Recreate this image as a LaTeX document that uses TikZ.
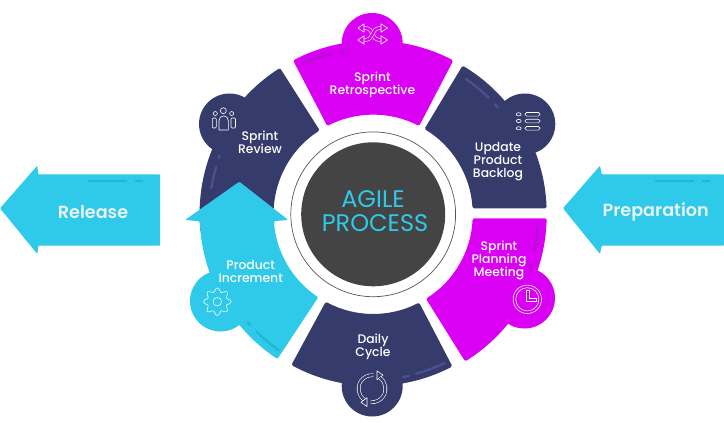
\documentclass[tikz,border=0pt]{standalone}
\usepackage{fontspec}
\setmainfont{Poppins}
\newfontfamily\medf{Poppins}[UprightFont={* Medium},BoldFont={* SemiBold}]
\definecolor{navy}{HTML}{353B6B}
\definecolor{navyhi}{HTML}{4A5190}
\definecolor{magen}{HTML}{D900F3}
\definecolor{magenhi}{HTML}{B114CC}
\definecolor{cyanb}{HTML}{2FCAEA}
\definecolor{cyanhi}{HTML}{25B4D3}
\definecolor{core}{HTML}{444444}
\definecolor{ringc}{HTML}{555555}
\definecolor{soft}{HTML}{E9F3F6}
\tikzset{
  seglabel/.style={text=white,font=\medf\fontsize{12.4}{13}\selectfont,align=center,inner sep=0pt},
  biglabel/.style={text=soft,font=\medf\bfseries\fontsize{17.6}{19}\selectfont,inner sep=0pt},
  corelabel/.style={text=cyanb,font=\fontsize{24}{26}\selectfont,align=center,inner sep=0pt},
  hi/.style={line width=2.3,line cap=round},
  icon/.style={draw=white,line width=0.6,line join=round},
  ribbon/.style={line width=0.6,draw=white,double distance=2.4,line cap=butt},
}
\newcommand\seg[3]{\fill[#3,rounded corners=1.5] (#1:\segR) arc[start angle=#1,end angle=#2,radius=\segR] -- (#2:99.5) arc[start angle=#2,end angle=#1,radius=99.5] -- cycle;}
\newcommand\hiarc[4]{\draw[hi,#4] (#1:#3) arc[start angle=#1,end angle=#2,radius=#3];}
\def\segR{173.5}
\begin{document}
\begin{tikzpicture}[x=1pt,y=1pt]
\useasboundingbox (0,0) rectangle (724,-423);
\coordinate (c) at (373.2,-214.3);
% side arrows
\fill[cyanb,rounded corners=0.8] (0,-208.3) -- (37.3,-165.7) -- (38.3,-174.3) -- (160,-174.3) -- (160,-245.7) -- (38.3,-245.7) -- (37.3,-254) -- cycle;
\draw[hi,cyanhi,line cap=butt] (88,-181.3) -- (127.3,-181.3);
\draw[hi,cyanhi,line cap=butt] (135,-181.3) -- (143,-181.3);
\node[biglabel] (release) at (93,-211.7) {Release};
\fill[cyanb,rounded corners=0.8] (563,-208.3) -- (600,-165.7) -- (601.7,-174.3) -- (724,-174.3) -- (724,-245.7) -- (601.7,-245.7) -- (600,-254) -- cycle;
\draw[hi,cyanhi,line cap=butt] (654.7,-181.3) -- (694,-181.3);
\draw[hi,cyanhi,line cap=butt] (701.7,-181.3) -- (710,-181.3);
\node[biglabel] (prep) at (655.7,-211.5) {Preparation};
% bumps
\fill[magen] (372.2,-43.5) circle (30.5);
\fill[navy] (229.5,-124) circle (30.5);
\fill[navy] (524.8,-124) circle (30.5);
\fill[magen] (524.5,-298) circle (30.5);
\fill[cyanb] (220.5,-301) circle (30.5);
\fill[navy] (372.2,-386) circle (30.5);
% segments
\begin{scope}[shift={(c)}]
\seg{62.5}{117.5}{magen}
\fill[navy,rounded corners=1.5] (59:\segR) arc[start angle=59,end angle=1.98,radius=\segR] -- (3.46:99.5) arc[start angle=3.46,end angle=59,radius=99.5] -- cycle;
\fill[magen,rounded corners=1.5] (-58:\segR) arc[start angle=-58,end angle=-1.32,radius=\segR] -- (-2.3:99.5) arc[start angle=-2.3,end angle=-58,radius=99.5] -- cycle;
\seg{122.5}{186}{navy}
\def\segR{171.5}
\seg{-62.5}{-118.5}{navy}
\def\segR{173.5}
\fill[cyanb,rounded corners=1.2] (236.5:\segR) arc[start angle=236.5,end angle=182.3,radius=\segR]
  -- (185-373.2,-5.7) -- (239.3-373.2,32.6) -- (288.3-373.2,-5.7) -- (183.9:99.5)
  arc[start angle=183.9,end angle=236.5,radius=99.5] -- cycle;
% highlights
\hiarc{115.4}{105}{166}{magenhi}
\hiarc{101.8}{99.8}{166}{magenhi}
\hiarc{55.6}{45.3}{164}{navyhi}
\hiarc{42.1}{40.5}{164}{navyhi}
\hiarc{170.8}{163.3}{164}{navyhi}
\hiarc{160}{159}{164.5}{navyhi}
\hiarc{225.2}{235.3}{165.5}{cyanhi}
\hiarc{220.7}{222}{165.5}{cyanhi}
\hiarc{-75}{-64.4}{165}{navyhi}
\hiarc{-79.6}{-77.5}{165.5}{navyhi}
\hiarc{-4.3}{-12.4}{165}{magenhi}
\hiarc{-18.9}{-17.8}{166}{magenhi}
% core
\draw[ringc,line width=0.7] (0,0) circle (82.4);
\fill[core] (0,0) circle (72);
\end{scope}
\node[corelabel,anchor=center] (agile) at (373,-199) {AGILE};
\node[corelabel,anchor=center] (process) at (375,-223) {PROCESS};
% labels
\node[seglabel] (retro) at (372.5,-84.5) {Sprint\\Retrospective};
\node[seglabel] (review) at (260,-142.5) {Sprint\\Review};
\node[seglabel] (update) at (498,-161.5) {Update\\Product\\Backlog};
\node[seglabel] (planning) at (499,-260) {Sprint\\Planning\\Meeting};
\node[seglabel] (daily) at (373,-346.5) {Daily\\Cycle};
\node[seglabel] (increment) at (250.7,-271) {Product\\Increment};
% shuffle icon
\draw[ribbon,double=magen] (364,-28) .. controls (376,-28) and (369,-40) .. (381,-40);
\draw[ribbon,double=magen] (364,-40) .. controls (376,-40) and (369,-28) .. (381,-28);
\draw[icon,fill=magen] (364,-23.8) -- (358,-28) -- (364,-32.2) -- cycle;
\draw[icon,fill=magen] (364,-35.8) -- (358,-40) -- (364,-44.2) -- cycle;
\draw[icon,fill=magen] (381,-23.8) -- (387.5,-28) -- (381,-32.2) -- cycle;
\draw[icon,fill=magen] (381,-35.8) -- (387.5,-40) -- (381,-44.2) -- cycle;
% people icon
\draw[icon] (223.3,-110.7) circle (3);
\draw[icon] (215.3,-113.5) circle (2);
\draw[icon] (231.7,-113.5) circle (2);
\draw[icon] (219,-130) -- (219,-120.5) arc[start angle=180,end angle=0,radius=4.65] -- (228.3,-130) -- cycle;
\draw[icon,rounded corners=1] (212.3,-128) -- (212.3,-118) -- (216.3,-118) -- (216.3,-128) -- cycle;
\draw[icon,rounded corners=1] (231,-128) -- (231,-118) -- (235.5,-118) -- (235.5,-128) -- cycle;
% list icon
\foreach \yy in {-114.3,-121,-128.3}{
  \draw[icon] (518.7,\yy) ellipse (2.5 and 1.6);
  \draw[icon,rounded corners=1.6] (525,\yy+1.8) rectangle (540,\yy-1.8);
}
% clock icon
\draw[icon] (527.3,-299.3) circle (14.2);
\draw[icon] (527.3,-299.3) circle (11.6);
\draw[icon] (526,-290.7) -- (529,-290.7) -- (529,-298.3) -- (536,-298.3) -- (536,-301.7) -- (526,-301.7) -- cycle;
% cycle icon
\begin{scope}[shift={(372,-388.7)}]
\foreach \r in {0,180}{
\begin{scope}[rotate=\r]
\draw[ribbon,double=navy] (235:13.5) arc[start angle=235,end angle=85,radius=13.5];
\draw[icon,fill=navy] (5,17.8) -- (11,13.6) -- (5,9) -- cycle;
\end{scope}}
\end{scope}
% gear icon
\draw[icon] (217.3,-301.7) circle (4.3);
\draw[icon,shift={(217.3,-301.7)}] plot[domain=0:360,samples=97,smooth] (\x:{11.8+1.9*cos(8*\x)}) -- cycle;
\end{tikzpicture}
\end{document}
